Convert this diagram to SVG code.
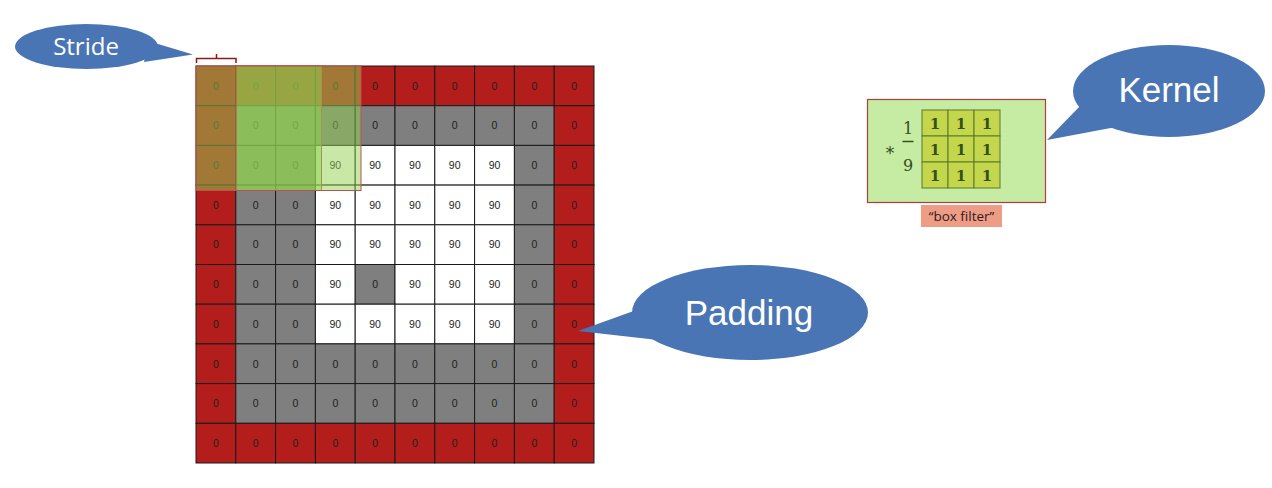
<svg xmlns="http://www.w3.org/2000/svg" width="1272" height="488" viewBox="0 0 1272 488">
<style>
.r{fill:#b31e1c;stroke:#1a1a1a;stroke-width:1}
.g{fill:#7f7f7f;stroke:#1a1a1a;stroke-width:1}
.w{fill:#ffffff;stroke:#1a1a1a;stroke-width:1}
.t{font-family:"Liberation Sans",Arial,sans-serif;font-size:10.5px;fill:#1e1e1e;text-anchor:middle}
.ov{fill:#8fd14f;fill-opacity:0.5;stroke:#c0504d;stroke-width:1}
.bubble{fill:#4a75b5}
.bt{font-family:"Liberation Sans",Arial,sans-serif;font-size:35px;fill:#ffffff;text-anchor:middle}
.k{fill:#c4d64c;stroke:#5b7a2c;stroke-width:1}
.kt{font-family:"DejaVu Serif","Liberation Serif",serif;font-size:15px;font-weight:bold;fill:#34501c;text-anchor:middle}
.ft{font-family:"DejaVu Serif","Liberation Serif",serif;font-size:16px;fill:#34501c;text-anchor:middle}
</style>
<rect width="1272" height="488" fill="#ffffff"/>
<g id="grid">
<!-- row 0 -->
<rect class="r" x="196" y="66" width="39.8" height="39.7"/><rect class="r" x="235.8" y="66" width="39.8" height="39.7"/><rect class="r" x="275.6" y="66" width="39.8" height="39.7"/><rect class="r" x="315.4" y="66" width="39.8" height="39.7"/><rect class="r" x="355.2" y="66" width="39.8" height="39.7"/><rect class="r" x="395" y="66" width="39.8" height="39.7"/><rect class="r" x="434.8" y="66" width="39.8" height="39.7"/><rect class="r" x="474.6" y="66" width="39.8" height="39.7"/><rect class="r" x="514.4" y="66" width="39.8" height="39.7"/><rect class="r" x="554.2" y="66" width="39.8" height="39.7"/>
<!-- row 1 -->
<rect class="r" x="196" y="105.7" width="39.8" height="39.7"/><rect class="g" x="235.8" y="105.7" width="39.8" height="39.7"/><rect class="g" x="275.6" y="105.7" width="39.8" height="39.7"/><rect class="g" x="315.4" y="105.7" width="39.8" height="39.7"/><rect class="g" x="355.2" y="105.7" width="39.8" height="39.7"/><rect class="g" x="395" y="105.7" width="39.8" height="39.7"/><rect class="g" x="434.8" y="105.7" width="39.8" height="39.7"/><rect class="g" x="474.6" y="105.7" width="39.8" height="39.7"/><rect class="g" x="514.4" y="105.7" width="39.8" height="39.7"/><rect class="r" x="554.2" y="105.7" width="39.8" height="39.7"/>
<!-- row 2 -->
<rect class="r" x="196" y="145.4" width="39.8" height="39.7"/><rect class="g" x="235.8" y="145.4" width="39.8" height="39.7"/><rect class="g" x="275.6" y="145.4" width="39.8" height="39.7"/><rect class="w" x="315.4" y="145.4" width="39.8" height="39.7"/><rect class="w" x="355.2" y="145.4" width="39.8" height="39.7"/><rect class="w" x="395" y="145.4" width="39.8" height="39.7"/><rect class="w" x="434.8" y="145.4" width="39.8" height="39.7"/><rect class="w" x="474.6" y="145.4" width="39.8" height="39.7"/><rect class="g" x="514.4" y="145.4" width="39.8" height="39.7"/><rect class="r" x="554.2" y="145.4" width="39.8" height="39.7"/>
<!-- row 3 -->
<rect class="r" x="196" y="185.1" width="39.8" height="39.7"/><rect class="g" x="235.8" y="185.1" width="39.8" height="39.7"/><rect class="g" x="275.6" y="185.1" width="39.8" height="39.7"/><rect class="w" x="315.4" y="185.1" width="39.8" height="39.7"/><rect class="w" x="355.2" y="185.1" width="39.8" height="39.7"/><rect class="w" x="395" y="185.1" width="39.8" height="39.7"/><rect class="w" x="434.8" y="185.1" width="39.8" height="39.7"/><rect class="w" x="474.6" y="185.1" width="39.8" height="39.7"/><rect class="g" x="514.4" y="185.1" width="39.8" height="39.7"/><rect class="r" x="554.2" y="185.1" width="39.8" height="39.7"/>
<!-- row 4 -->
<rect class="r" x="196" y="224.8" width="39.8" height="39.7"/><rect class="g" x="235.8" y="224.8" width="39.8" height="39.7"/><rect class="g" x="275.6" y="224.8" width="39.8" height="39.7"/><rect class="w" x="315.4" y="224.8" width="39.8" height="39.7"/><rect class="w" x="355.2" y="224.8" width="39.8" height="39.7"/><rect class="w" x="395" y="224.8" width="39.8" height="39.7"/><rect class="w" x="434.8" y="224.8" width="39.8" height="39.7"/><rect class="w" x="474.6" y="224.8" width="39.8" height="39.7"/><rect class="g" x="514.4" y="224.8" width="39.8" height="39.7"/><rect class="r" x="554.2" y="224.8" width="39.8" height="39.7"/>
<!-- row 5 -->
<rect class="r" x="196" y="264.5" width="39.8" height="39.7"/><rect class="g" x="235.8" y="264.5" width="39.8" height="39.7"/><rect class="g" x="275.6" y="264.5" width="39.8" height="39.7"/><rect class="w" x="315.4" y="264.5" width="39.8" height="39.7"/><rect class="g" x="355.2" y="264.5" width="39.8" height="39.7"/><rect class="w" x="395" y="264.5" width="39.8" height="39.7"/><rect class="w" x="434.8" y="264.5" width="39.8" height="39.7"/><rect class="w" x="474.6" y="264.5" width="39.8" height="39.7"/><rect class="g" x="514.4" y="264.5" width="39.8" height="39.7"/><rect class="r" x="554.2" y="264.5" width="39.8" height="39.7"/>
<!-- row 6 -->
<rect class="r" x="196" y="304.2" width="39.8" height="39.7"/><rect class="g" x="235.8" y="304.2" width="39.8" height="39.7"/><rect class="g" x="275.6" y="304.2" width="39.8" height="39.7"/><rect class="w" x="315.4" y="304.2" width="39.8" height="39.7"/><rect class="w" x="355.2" y="304.2" width="39.8" height="39.7"/><rect class="w" x="395" y="304.2" width="39.8" height="39.7"/><rect class="w" x="434.8" y="304.2" width="39.8" height="39.7"/><rect class="w" x="474.6" y="304.2" width="39.8" height="39.7"/><rect class="g" x="514.4" y="304.2" width="39.8" height="39.7"/><rect class="r" x="554.2" y="304.2" width="39.8" height="39.7"/>
<!-- row 7 -->
<rect class="r" x="196" y="343.9" width="39.8" height="39.7"/><rect class="g" x="235.8" y="343.9" width="39.8" height="39.7"/><rect class="g" x="275.6" y="343.9" width="39.8" height="39.7"/><rect class="g" x="315.4" y="343.9" width="39.8" height="39.7"/><rect class="g" x="355.2" y="343.9" width="39.8" height="39.7"/><rect class="g" x="395" y="343.9" width="39.8" height="39.7"/><rect class="g" x="434.8" y="343.9" width="39.8" height="39.7"/><rect class="g" x="474.6" y="343.9" width="39.8" height="39.7"/><rect class="g" x="514.4" y="343.9" width="39.8" height="39.7"/><rect class="r" x="554.2" y="343.9" width="39.8" height="39.7"/>
<!-- row 8 -->
<rect class="r" x="196" y="383.6" width="39.8" height="39.7"/><rect class="g" x="235.8" y="383.6" width="39.8" height="39.7"/><rect class="g" x="275.6" y="383.6" width="39.8" height="39.7"/><rect class="g" x="315.4" y="383.6" width="39.8" height="39.7"/><rect class="g" x="355.2" y="383.6" width="39.8" height="39.7"/><rect class="g" x="395" y="383.6" width="39.8" height="39.7"/><rect class="g" x="434.8" y="383.6" width="39.8" height="39.7"/><rect class="g" x="474.6" y="383.6" width="39.8" height="39.7"/><rect class="g" x="514.4" y="383.6" width="39.8" height="39.7"/><rect class="r" x="554.2" y="383.6" width="39.8" height="39.7"/>
<!-- row 9 -->
<rect class="r" x="196" y="423.3" width="39.8" height="39.7"/><rect class="r" x="235.8" y="423.3" width="39.8" height="39.7"/><rect class="r" x="275.6" y="423.3" width="39.8" height="39.7"/><rect class="r" x="315.4" y="423.3" width="39.8" height="39.7"/><rect class="r" x="355.2" y="423.3" width="39.8" height="39.7"/><rect class="r" x="395" y="423.3" width="39.8" height="39.7"/><rect class="r" x="434.8" y="423.3" width="39.8" height="39.7"/><rect class="r" x="474.6" y="423.3" width="39.8" height="39.7"/><rect class="r" x="514.4" y="423.3" width="39.8" height="39.7"/><rect class="r" x="554.2" y="423.3" width="39.8" height="39.7"/>
<!-- values -->
<g class="t">
<text x="215.9" y="89.6">0</text><text x="255.7" y="89.6">0</text><text x="295.5" y="89.6">0</text><text x="335.3" y="89.6">0</text><text x="375.1" y="89.6">0</text><text x="414.9" y="89.6">0</text><text x="454.7" y="89.6">0</text><text x="494.5" y="89.6">0</text><text x="534.3" y="89.6">0</text><text x="574.1" y="89.6">0</text>
<text x="215.9" y="129.3">0</text><text x="255.7" y="129.3">0</text><text x="295.5" y="129.3">0</text><text x="335.3" y="129.3">0</text><text x="375.1" y="129.3">0</text><text x="414.9" y="129.3">0</text><text x="454.7" y="129.3">0</text><text x="494.5" y="129.3">0</text><text x="534.3" y="129.3">0</text><text x="574.1" y="129.3">0</text>
<text x="215.9" y="169">0</text><text x="255.7" y="169">0</text><text x="295.5" y="169">0</text><text x="335.3" y="169">90</text><text x="375.1" y="169">90</text><text x="414.9" y="169">90</text><text x="454.7" y="169">90</text><text x="494.5" y="169">90</text><text x="534.3" y="169">0</text><text x="574.1" y="169">0</text>
<text x="215.9" y="208.7">0</text><text x="255.7" y="208.7">0</text><text x="295.5" y="208.7">0</text><text x="335.3" y="208.7">90</text><text x="375.1" y="208.7">90</text><text x="414.9" y="208.7">90</text><text x="454.7" y="208.7">90</text><text x="494.5" y="208.7">90</text><text x="534.3" y="208.7">0</text><text x="574.1" y="208.7">0</text>
<text x="215.9" y="248.4">0</text><text x="255.7" y="248.4">0</text><text x="295.5" y="248.4">0</text><text x="335.3" y="248.4">90</text><text x="375.1" y="248.4">90</text><text x="414.9" y="248.4">90</text><text x="454.7" y="248.4">90</text><text x="494.5" y="248.4">90</text><text x="534.3" y="248.4">0</text><text x="574.1" y="248.4">0</text>
<text x="215.9" y="288.1">0</text><text x="255.7" y="288.1">0</text><text x="295.5" y="288.1">0</text><text x="335.3" y="288.1">90</text><text x="375.1" y="288.1">0</text><text x="414.9" y="288.1">90</text><text x="454.7" y="288.1">90</text><text x="494.5" y="288.1">90</text><text x="534.3" y="288.1">0</text><text x="574.1" y="288.1">0</text>
<text x="215.9" y="327.8">0</text><text x="255.7" y="327.8">0</text><text x="295.5" y="327.8">0</text><text x="335.3" y="327.8">90</text><text x="375.1" y="327.8">90</text><text x="414.9" y="327.8">90</text><text x="454.7" y="327.8">90</text><text x="494.5" y="327.8">90</text><text x="534.3" y="327.8">0</text><text x="574.1" y="327.8">0</text>
<text x="215.9" y="367.5">0</text><text x="255.7" y="367.5">0</text><text x="295.5" y="367.5">0</text><text x="335.3" y="367.5">0</text><text x="375.1" y="367.5">0</text><text x="414.9" y="367.5">0</text><text x="454.7" y="367.5">0</text><text x="494.5" y="367.5">0</text><text x="534.3" y="367.5">0</text><text x="574.1" y="367.5">0</text>
<text x="215.9" y="407.2">0</text><text x="255.7" y="407.2">0</text><text x="295.5" y="407.2">0</text><text x="335.3" y="407.2">0</text><text x="375.1" y="407.2">0</text><text x="414.9" y="407.2">0</text><text x="454.7" y="407.2">0</text><text x="494.5" y="407.2">0</text><text x="534.3" y="407.2">0</text><text x="574.1" y="407.2">0</text>
<text x="215.9" y="446.9">0</text><text x="255.7" y="446.9">0</text><text x="295.5" y="446.9">0</text><text x="335.3" y="446.9">0</text><text x="375.1" y="446.9">0</text><text x="414.9" y="446.9">0</text><text x="454.7" y="446.9">0</text><text x="494.5" y="446.9">0</text><text x="534.3" y="446.9">0</text><text x="574.1" y="446.9">0</text>
</g>
</g>
<g id="kernel-window">
<rect class="ov" x="196" y="66" width="125.5" height="124.5"/>
<rect class="ov" x="236" y="66" width="125" height="124.5"/>
</g>
<g id="stride-bracket">
<path d="M196.5,63 V58.5 H236 V63 M216.5,58.5 V54" fill="none" stroke="#8b1a1a" stroke-width="1.5"/>
</g>
<g id="connectors">
<polygon class="bubble" points="148,41 193,54.5 144,62"/>
<polygon class="bubble" points="1082,104 1047,140 1116,127"/>
<polygon class="bubble" points="642,308 578,331 658,340"/>
</g>
<g id="stride-callout">
<ellipse class="bubble" cx="86.5" cy="46.5" rx="71.5" ry="22.5"/>
<text x="86" y="55" font-family="'Open Sans','Noto Sans',sans-serif" font-size="24" fill="#ffffff" text-anchor="middle">Stride</text>
</g>
<g id="kernel-callout">
<ellipse class="bubble" cx="1169" cy="91" rx="96" ry="46"/>
<text class="bt" x="1169" y="102">Kernel</text>
</g>
<g id="padding-callout">
<ellipse class="bubble" cx="750" cy="312.5" rx="118" ry="47.5"/>
<text class="bt" x="749" y="325">Padding</text>
</g>
<g id="kernel-box">
<rect x="867.5" y="99.5" width="178" height="103" fill="#c6eba2" stroke="#b03c3c" stroke-width="1.2"/>
<text x="890" y="159" font-family="'DejaVu Sans',sans-serif" font-size="18" fill="#34501c" text-anchor="middle">*</text>
<text class="ft" x="908" y="134">1</text>
<line x1="902.5" y1="141.5" x2="913.5" y2="141.5" stroke="#34501c" stroke-width="1.5"/>
<text class="ft" x="908" y="171">9</text>
<rect class="k" x="922" y="110" width="26" height="26"/><rect class="k" x="948" y="110" width="26" height="26"/><rect class="k" x="974" y="110" width="26" height="26"/>
<rect class="k" x="922" y="136" width="26" height="26"/><rect class="k" x="948" y="136" width="26" height="26"/><rect class="k" x="974" y="136" width="26" height="26"/>
<rect class="k" x="922" y="162" width="26" height="26"/><rect class="k" x="948" y="162" width="26" height="26"/><rect class="k" x="974" y="162" width="26" height="26"/>
<text class="kt" x="935" y="128.5">1</text><text class="kt" x="961" y="128.5">1</text><text class="kt" x="987" y="128.5">1</text>
<text class="kt" x="935" y="154.5">1</text><text class="kt" x="961" y="154.5">1</text><text class="kt" x="987" y="154.5">1</text>
<text class="kt" x="935" y="180.5">1</text><text class="kt" x="961" y="180.5">1</text><text class="kt" x="987" y="180.5">1</text>
</g>
<g id="box-filter-label">
<rect x="921" y="205" width="81" height="22" fill="#ef9c87"/>
<text x="961.5" y="221" font-family="'Open Sans','Noto Sans',sans-serif" font-size="13.5" fill="#2a2020" text-anchor="middle">“box filter”</text>
</g>
</svg>
